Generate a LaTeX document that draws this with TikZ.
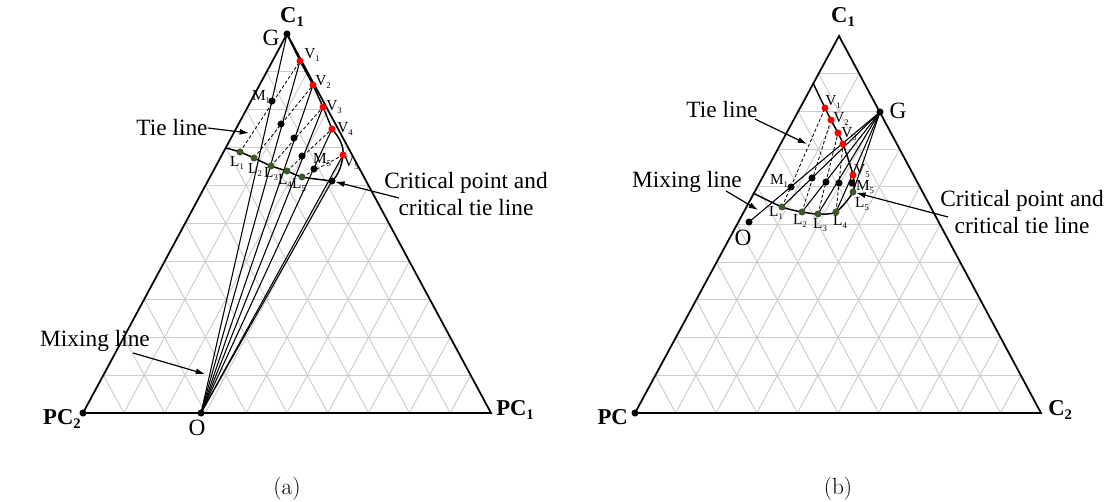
\documentclass[tikz,border=0pt]{standalone}
\usepackage{fontspec}
\setmainfont{Liberation Serif}
\newfontfamily\capfont{Latin Modern Roman}
\usetikzlibrary{arrows.meta,positioning,calc}

\definecolor{liqgreen}{RGB}{60,90,40}
\newcommand{\sbs}[1]{\raisebox{-0.3ex}{\fontsize{6.5}{6.5}\selectfont #1}}
\newcommand{\bsbs}[1]{\raisebox{-0.45ex}{\fontsize{11}{11}\selectfont\bfseries #1}}

\begin{document}
\begin{tikzpicture}[x=0.75pt, y=-0.75pt, >=Latex,
  edge/.style={line width=1.3pt},
  gridline/.style={black!20, line width=0.7pt},
  binodal/.style={line width=1.1pt},
  mixline/.style={line width=0.8pt},
  tieline/.style={line width=0.6pt, dash pattern=on 2.5pt off 1.6pt},
  dotbase/.style={circle, inner sep=0pt, minimum size=5.3pt},
  vdot/.style={dotbase, fill=red},
  ldot/.style={dotbase, fill=liqgreen},
  mdot/.style={dotbase, fill=black},
  ptlabel/.style={font=\fontsize{11.5}{11.5}\selectfont, inner sep=0pt},
  corner/.style={font=\fontsize{17}{17}\selectfont\bfseries, inner sep=0pt},
  bigtext/.style={font=\fontsize{17.5}{20}\selectfont, inner sep=0pt},
  annot/.style={font=\fontsize{17.5}{20.5}\selectfont, inner sep=0pt, align=center},
  pointer/.style={-{Latex[length=7pt,width=4.5pt]}, line width=0.9pt}]

\useasboundingbox (0,0) rectangle (1120,502);

% Corners of the two triangles
\coordinate (a1) at (287,34); \coordinate (a2) at (83,413); \coordinate (a3) at (491,413);
\coordinate (b1) at (839,36); \coordinate (b2) at (635,413); \coordinate (b3) at (1041,413);

% Triangular grid, 10 divisions
\foreach \side in {a,b}
  \foreach \k in {1,...,9} {
    \draw[gridline] ($(\side1)!\k/10!(\side2)$) -- ($(\side1)!\k/10!(\side3)$);
    \draw[gridline] ($(\side2)!\k/10!(\side1)$) -- ($(\side2)!\k/10!(\side3)$);
    \draw[gridline] ($(\side3)!\k/10!(\side1)$) -- ($(\side3)!\k/10!(\side2)$);
  }

% ---------- (a) ----------
\coordinate (aO) at (201,413);
\coordinate (aK) at (332,181);
\coordinate (aLs) at (226,148);
\foreach \n/\px/\py in {1/300/61, 2/313/85, 3/323/107, 4/332/129, 5/343/155}
  \coordinate (aV\n) at (\px,\py);
\foreach \n/\px/\py in {1/272/101, 2/281/124, 3/294/138, 4/302/156, 5/314/169}
  \coordinate (aM\n) at (\px,\py);
\foreach \n/\px/\py in {1/240/152, 2/254/158, 3/271/166, 4/287/171, 5/302/177}
  \coordinate (aL\n) at (\px,\py);

% point labels
\foreach \n/\px/\py in {1/312/55, 2/323/82, 3/334/107, 4/345/129, 5/351/163}
  \node[ptlabel] (aV\n lab) at (\px,\py) {V\sbs{\n}};
\foreach \n/\px/\py in {1/237/163, 2/255/170, 3/271/174, 4/285/181, 5/299/185}
  \node[ptlabel] (aL\n lab) at (\px,\py) {L\sbs{\n}};
\node[ptlabel] (aM1lab) at (261,97) {M\sbs{1}};
\node[ptlabel] (aM5lab) at (322,160) {M\sbs{5}};

\draw[edge] (a1) -- (a2) -- (a3) -- cycle;

% mixing lines from O
\foreach \p in {a1, aV1, aV2, aV3, aV4, aV5, aK}
  \draw[mixline] (aO) -- (\p);
% tie lines
\foreach \n in {1,...,5}
  \draw[tieline] (aL\n) -- (aV\n);
% binodal curve
\draw[binodal] plot[smooth, tension=0.4] coordinates {(aLs) (aL1) (aL2) (aL3) (aL4) (aL5) (aK)};
\draw[binodal] (a1) -- (aV1) -- (aV2) -- (aV3) -- (aV4)
  .. controls (340,138) and (344,147) .. (aV5)
  .. controls (342,165) and (338,176) .. (aK);

\foreach \p in {aV1, aV2, aV3, aV4, aV5} \node[vdot] at (\p) {};
\foreach \p in {aL1, aL2, aL3, aL4, aL5} \node[ldot] at (\p) {};
\foreach \p in {aM1, aM2, aM3, aM4, aM5, aK, a1, a2, aO} \node[mdot] at (\p) {};

\node[corner] (aC1lab) at (292,17) {C\bsbs{1}};
\node[bigtext] (aGlab) at (271,38) {G};
\node[corner, anchor=east] (aPC2lab) at (81,419) {PC\bsbs{2}};
\node[corner, anchor=west] (aPC1lab) at (496,410) {PC\bsbs{1}};
\node[bigtext] (aOlab) at (197,428) {O};

\node[bigtext] (aTieText) at (172,128) {Tie line};
\coordinate (aTieTip) at (249,133);
\draw[pointer] (aTieText.east) -- (aTieTip);

\node[annot] (aCritText) at (466,194) {Critical point and\\critical tie line};
\draw[pointer, shorten >=2.5pt] ($(aCritText.west)+(15,4)$) -- (aK);

\node[bigtext] (aMixText) at (95,341) {Mixing line};
\coordinate (aMixTip) at (205,374);
\draw[pointer] ($(aMixText.east)+(-17,12)$) -- (aMixTip);

\node[font=\capfont\fontsize{17.5}{20}\selectfont] (aCap) at (287,489) {(a)};

% ---------- (b) ----------
\coordinate (bG) at (880,112);
\coordinate (bO) at (749,222);
\coordinate (bVs) at (813,83);
\coordinate (bLs) at (753,193);
\foreach \n/\px/\py in {1/825/108, 2/831/120, 3/838/133, 4/843/144, 5/853/175}
  \coordinate (bV\n) at (\px,\py);
\foreach \n/\px/\py in {1/791/187, 2/812/178, 3/826/182, 4/839/183, 5/852/183}
  \coordinate (bM\n) at (\px,\py);
\foreach \n/\px/\py in {1/782/207, 2/802/212, 3/818/214, 4/836/212, 5/853/192}
  \coordinate (bL\n) at (\px,\py);

\foreach \n/\px/\py in {1/833/102, 2/841/119, 3/849/134, 5/862/171}
  \node[ptlabel] (bV\n lab) at (\px,\py) {V\sbs{\n}};
\foreach \n/\px/\py in {1/776/213, 2/800/221, 3/820/225, 4/840/222, 5/862/204}
  \node[ptlabel] (bL\n lab) at (\px,\py) {L\sbs{\n}};
\node[ptlabel] (bM1lab) at (779,181) {M\sbs{1}};
\node[ptlabel] (bM5lab) at (865,187) {M\sbs{5}};

\draw[edge] (b1) -- (b2) -- (b3) -- cycle;

% mixing lines from G
\foreach \p in {bO, bL1, bL2, bL3, bL4, bL5}
  \draw[mixline] (bG) -- (\p);
% tie lines
\foreach \n in {1,...,5}
  \draw[tieline] (bL\n) -- (bV\n);
% binodal curve
\draw[binodal] plot[smooth, tension=0.45] coordinates {(bVs) (bV1) (bV2) (bV3) (bV4) (bV5) (bL5) (bL4) (bL3) (bL2) (bL1) (bLs)};

\foreach \p in {bV1, bV2, bV3, bV4, bV5} \node[vdot] at (\p) {};
\foreach \p in {bL1, bL2, bL3, bL4, bL5} \node[ldot] at (\p) {};
\foreach \p in {bM1, bM2, bM3, bM4, bM5, bG, bO, b2} \node[mdot] at (\p) {};

\node[corner] (bC1lab) at (843,17) {C\bsbs{1}};
\node[bigtext] (bGlab) at (898,111) {G};
\node[corner, anchor=east] (bPClab) at (628,417) {PC};
\node[corner, anchor=west] (bC2lab) at (1048,410) {C\bsbs{2}};
\node[bigtext] (bOlab) at (743,238) {O};

\node[bigtext] (bTieText) at (722,110) {Tie line};
\coordinate (bTieTip) at (807,144);
\draw[pointer] ($(bTieText.east)+(-3,9)$) -- (bTieTip);

\node[bigtext] (bMixText) at (687,182) {Mixing line};
\coordinate (bMixTip) at (758,210);
\draw[pointer] ($(bMixText.east)+(-16,9)$) -- (bMixTip);

\node[annot] (bCritText) at (1022,212) {Critical point and\\critical tie line};
\draw[pointer, shorten >=2.5pt] ($(bCritText.west)+(8,5)$) -- (bL5);

\node[font=\capfont\fontsize{17.5}{20}\selectfont] (bCap) at (838,489) {(b)};
\end{tikzpicture}
\end{document}
